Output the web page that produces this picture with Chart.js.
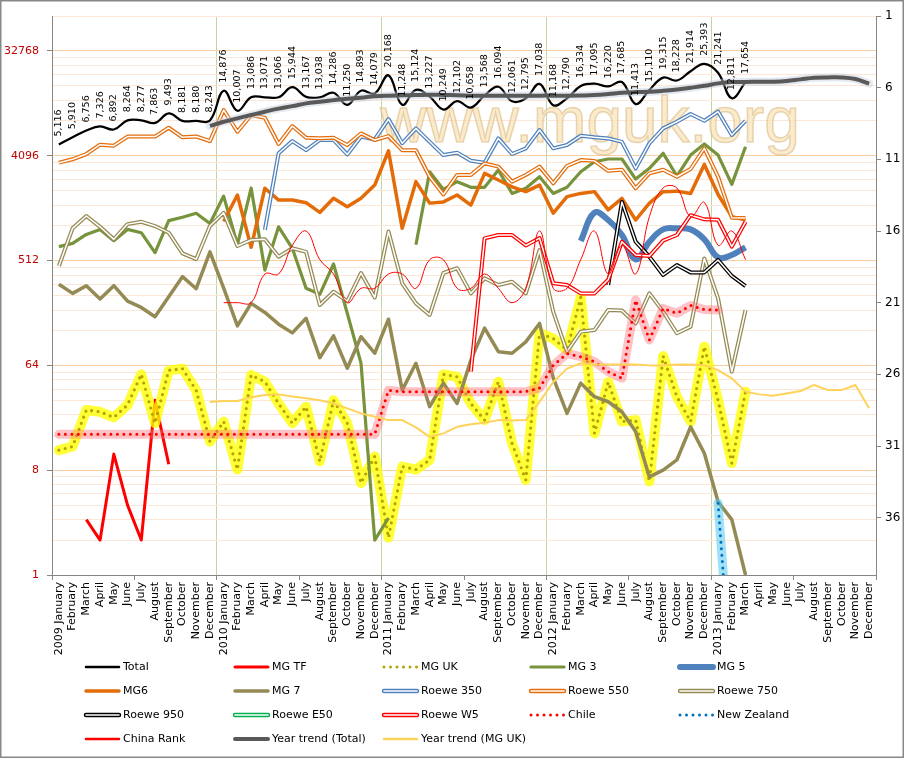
<!DOCTYPE html>
<html>
<head>
<meta charset="utf-8">
<title>MG / Roewe sales</title>
<script src="https://cdn.jsdelivr.net/npm/chart.js@4.4.1/dist/chart.umd.min.js"></script>
<style>
  html, body { margin: 0; padding: 0; background: #fff; }
  #wrap { width: 904px; height: 758px; }
</style>
</head>
<body>
<div id="wrap"><canvas id="salesChart" width="904" height="758"></canvas></div>
<script>
// categories
const months = ['January', 'February', 'March', 'April', 'May', 'June', 'July',
  'August', 'September', 'October', 'November', 'December'];
const years = [2009, 2010, 2011, 2012, 2013];
const categories = [];
years.forEach(y => months.forEach((m, i) => categories.push(i === 0 ? y + ' ' + m : m)));

// axis ticks
const leftTicks = [1, 8, 64, 512, 4096, 32768];
const rightTicks = [1, 6, 11, 16, 21, 26, 31, 36];

// series (one value per month, 2009 January onwards)
const total = [5116, 5910, 6756, 7326, 6892, 8264, 8277, 7863, 9493, 8181, 8180, 8243,
  14876, 10007, 13086, 13071, 13066, 15944, 13167, 13038, 14286, 11250, 14893, 14079,
  20168, 11248, 15124, 13227, 10249, 12102, 10658, 13568, 16094, 12061, 12795, 17038,
  11168, 12790, 16334, 17095, 16220, 17685, 11413, 15110, 19315, 18228, 21914, 25393,
  21241, 12811, 17654];

const mgTF = [null, null, 3, 2, 11, 4, 2, 32, 9];

const mgUK = [11.9, 12.8, 26.4, 25.5, 22.8, 29.2, 53.6, 20.3, 58, 60, 39, 14.1,
  21, 8.1, 52.8, 46.3, 30, 20.3, 28.2, 9.5, 32, 20.3, 6.2, 10.5,
  2.1, 8.6, 8.1, 9.8, 53.6, 51, 30, 21.6, 46.3, 13.6, 6.6, 121,
  109, 87, 247, 16.6, 46, 21, 21.6, 6.4, 77, 34.4, 21, 93,
  32, 9.2, 38];

const mg3 = [675, 720, 860, 950, 760, 950, 890, 600, 1130, 1210, 1310, 1070,
  1840, 700, 2160, 424, 1000, 653, 296, 262, 478, 180, 67, 2.0,
  3.1, null, 700, 2980, 2100, 2450, 2190, 2190, 3080, 1940, 2150, 2700,
  1940, 2190, 2980, 3640, 3840, 3840, 2580, 3190, 4300, 2740, 4150, 5170,
  4150, 2320, 4900];

const mg5 = [null, null, null, null, null, null, null, null, null, null, null, null,
  null, null, null, null, null, null, null, null, null, null, null, null,
  null, null, null, null, null, null, null, null, null, null, null, null,
  null, null, 755, 1323, 1144, 850, 525, 744, 950, 970, 950, 780,
  545, 572, 666];

const mg6 = [null, null, null, null, null, null, null, null, null, null, null, null,
  1110, 1880, 666, 2150, 1700, 1700, 1615, 1330, 1760, 1490, 1760, 2290,
  4520, 970, 2450, 1600, 1640, 1880, 1540, 2890, 2530, 2210, 2010, 2290,
  1310, 1820, 1940, 2010, 1400, 1760, 1145, 1600, 2010, 2030, 1940, 3450,
  1900, 1225, 1145];

const mg7 = [320, 267, 311, 239, 311, 229, 202, 168, 250, 372, 293, 609,
  296, 140, 219, 183, 145, 122, 163, 74.5, 115, 60.4, 113, 81.4,
  160, 39.2, 66.7, 28.2, 45, 30.1, 71, 134, 84, 81.4, 102, 147,
  50, 24.7, 45, 34.4, 31.1, 25.5, 17.2, 7.0, 8.0, 9.8, 18.9, 11.2,
  4.28, 3.0, 1.0];

const roewe350 = [null, null, null, null, null, null, null, null, null, null, null, null,
  null, null, null, 940, 4300, 5480, 4580, 5600, 5600, 4200, 6000, 5660,
  8480, 5250, 7050, 5400, 4150, 4350, 3710, 3570, 5780, 4240, 4740, 6820,
  4740, 5070, 6090, 5900, 5780, 5400, 3190, 5250, 7050, 8040, 9370, 8200,
  9820, 6180, 8200];

const roewe550 = [3570, 3820, 4240, 5100, 5000, 5990, 5990, 5990, 7140, 5900, 6000, 5480,
  10150, 6600, 9200, 8700, 5170, 7380, 5860, 5800, 5860, 5070, 6380, 5590,
  6050, 4570, 4570, 2700, 1900, 2800, 2800, 3520, 3300, 2450, 2800, 3300,
  2370, 3340, 3760, 3700, 3040, 3100, 2150, 2890, 3100, 2700, 3150, 4740,
  2700, 1200, 1190];

const roewe750 = [460, 970, 1240, 1000, 780, 1055, 1105, 1015, 890, 590, 527, 1015,
  1320, 684, 770, 780, 553, 653, 609, 212, 276, 229, 400, 246,
  910, 326, 219, 174, 400, 440, 267, 360, 315, 336, 267, 630,
  185, 84, 125, 129, 192, 190, 147, 267, 186, 121, 138, 534,
  242, 56.5, 192];

const roewe950 = [null, null, null, null, null, null, null, null, null, null, null, null,
  null, null, null, null, null, null, null, null, null, null, null, null,
  null, null, null, null, null, null, null, null, null, null, null, null,
  null, null, null, null, 315, 1640, 744, 553, 385, 468, 405, 405,
  518, 377, 309];

const roeweE50 = [];

const roeweW5 = [null, null, null, null, null, null, null, null, null, null, null, null,
  null, null, null, null, null, null, null, null, null, null, null, null,
  null, null, null, null, null, null, 56.5, 796, 850, 850, 690, 800,
  326, 315, 267, 267, 350, 744, 572, 560, 760, 850, 1260, 1160,
  1150, 675, 1105];

const chile = [16.3, 16.3, 16.3, 16.3, 16.3, 16.3, 16.3, 16.3, 16.3, 16.3, 16.3, 16.3,
  16.3, 16.3, 16.3, 16.3, 16.3, 16.3, 16.3, 16.3, 16.3, 16.3, 16.3, 16.3,
  39, 38, 38, 38, 38, 38, 38, 38, 38, 38, 38, 40.8,
  64, 81, 76, 69, 56.5, 49.5, 234, 106, 198, 180, 210, 194,
  192];

const newZealand = [null, null, null, null, null, null, null, null, null, null, null, null,
  null, null, null, null, null, null, null, null, null, null, null, null,
  null, null, null, null, null, null, null, null, null, null, null, null,
  null, null, null, null, null, null, null, null, null, null, null, null,
  4.15, 0.1];

// rank, right axis
const chinaRank = [null, null, null, null, null, null, null, null, null, null, null, null,
  21, 21, 21, 19, 19, 17, 16, 18, 19, 21, 20, 20,
  19, 19, 20, 18, 18, 20, 20, 19, 20, 21, 20, 16,
  20, 20, 18, 16, 19, 17, 19, 15, 13, 13, 15, 14,
  17, 16, 18];

const trendTotal = [null, null, null, null, null, null, null, null, null, null, null, 7400,
  8040, 8600, 9200, 9820, 10430, 10960, 11580, 11970, 12350, 12700, 12950, 13310,
  13480, 13570, 13660, 13750, 13700, 13600, 13500, 13450, 13450, 13450, 13450, 13500,
  13500, 13500, 13550, 13660, 13930, 14290, 14480, 14570, 14860, 15270, 15790, 16400,
  17220, 17680, 17680, 17800, 17800, 18030, 18640, 19230, 19380, 19380, 18760, 17110];

const trendUK = [null, null, null, null, null, null, null, null, null, null, null, 31,
  31.5, 31.6, 34, 35.5, 36, 34.5, 33.3, 32, 30.1, 27.3, 24.7, 23.1,
  21.6, 21.6, 18.7, 15.5, 16.6, 18.9, 19.9, 20.5, 21.6, 21.4, 21.6, 31,
  46, 60, 66.7, 65, 65, 65, 65, 64, 64, 65, 65, 64,
  58.3, 49.5, 38, 36, 35.1, 36.7, 38.5, 43.4, 39.2, 39.2, 43.4, 27.3];

// looks of each series, legend order
const series = [
  { label: 'Total', data: total, color: '#000000', width: 2.25, tension: 0.4 },
  { label: 'MG TF', data: mgTF, color: '#FF0000', width: 3 },
  { label: 'MG UK', data: mgUK, color: '#B5A300', width: 3.2, dots: true, glow: 'rgba(255,255,0,0.78)', glowWidth: 10 },
  { label: 'MG 3', data: mg3, color: '#77933C', width: 3.2 },
  { label: 'MG 5', data: mg5, color: '#4F81BD', width: 6, tension: 0.4 },
  { label: 'MG6', data: mg6, color: '#E36C09', width: 3.5 },
  { label: 'MG 7', data: mg7, color: '#948A54', width: 3.5 },
  { label: 'Roewe 350', data: roewe350, color: '#4F81BD', width: 4, double: true },
  { label: 'Roewe 550', data: roewe550, color: '#E46C0A', width: 4, double: true },
  { label: 'Roewe 750', data: roewe750, color: '#948A54', width: 4, double: true },
  { label: 'Roewe 950', data: roewe950, color: '#000000', width: 4, double: true },
  { label: 'Roewe E50', data: roeweE50, color: '#00B050', width: 4, double: true },
  { label: 'Roewe W5', data: roeweW5, color: '#FF0000', width: 4, double: true },
  { label: 'Chile', data: chile, color: '#FF0000', width: 3, dots: true, glow: 'rgba(255,110,120,0.42)', glowWidth: 9 },
  { label: 'New Zealand', data: newZealand, color: '#0070C0', width: 3, dots: true, glow: 'rgba(80,200,240,0.55)', glowWidth: 9 },
  { label: 'China Rank', data: chinaRank, color: '#FF0000', width: 1, tension: 0.4, axis: 'yRank' },
  { label: 'Year trend (Total)', data: trendTotal, color: '#595959', width: 4, tension: 0.4, glow: 'rgba(195,205,220,0.45)', glowWidth: 8 },
  { label: 'Year trend (MG UK)', data: trendUK, color: '#FFD25A', width: 2 }
];

const datasets = [];
series.forEach((s, k) => {
  const base = 1000 - k * 10; // later series on top
  const common = {
    data: s.data, yAxisID: s.axis || 'y', pointRadius: 0, pointHoverRadius: 0,
    tension: s.tension || 0, borderJoinStyle: 'round', spanGaps: false, fill: false
  };
  if (s.glow) {
    datasets.push({ ...common, label: s.label + ' glow', borderColor: s.glow,
      borderWidth: s.glowWidth, borderCapStyle: 'round', order: base + 1 });
  }
  datasets.push({ ...common, label: s.label, borderColor: s.color, borderWidth: s.width,
    borderDash: s.dots ? [0, 6.5] : [], borderCapStyle: s.dots ? 'round' : 'butt', order: base });
  if (s.double) {
    datasets.push({ ...common, label: s.label + ' inner', borderColor: '#FFFFFF',
      borderWidth: 1.5, order: base - 1 });
  }
});

// minor gridlines at 2..7 times each major tick
const gridValues = [];
leftTicks.forEach(t => { for (let m = 1; m < 8; m++) if (t * m <= 65536) gridValues.push(t * m); });
if (!gridValues.includes(65536)) gridValues.push(65536);

const watermark = {
  id: 'watermark',
  beforeDatasetsDraw(chart) {
    const ctx = chart.ctx;
    ctx.save();
    ctx.font = '64px "Liberation Sans", Arial, sans-serif';
    ctx.textAlign = 'center';
    ctx.textBaseline = 'alphabetic';
    ctx.fillStyle = 'rgba(250,226,184,0.7)';
    ctx.strokeStyle = 'rgba(214,178,120,0.5)';
    ctx.lineWidth = 1.5;
    ctx.fillText('www.mguk.org', 590, 142);
    ctx.strokeText('www.mguk.org', 590, 142);
    ctx.restore();
  }
};

const totalLabels = {
  id: 'totalLabels',
  afterDatasetsDraw(chart) {
    const idx = chart.data.datasets.findIndex(d => d.label === 'Total');
    const meta = chart.getDatasetMeta(idx);
    const ctx = chart.ctx;
    ctx.save();
    ctx.font = '9.5px "DejaVu Sans", sans-serif';
    ctx.fillStyle = '#000';
    ctx.textAlign = 'left';
    ctx.textBaseline = 'middle';
    meta.data.forEach((pt, i) => {
      const v = total[i];
      if (v == null) return;
      ctx.save();
      ctx.translate(pt.x, pt.y - 8);
      ctx.rotate(-Math.PI / 2);
      ctx.fillText(v.toLocaleString('en-US'), 0, 0);
      ctx.restore();
    });
    ctx.restore();
  }
};

const legendBox = {
  id: 'legendBox',
  afterDraw(chart) {
    const ctx = chart.ctx;
    const colX = [123, 272, 421, 568, 717];
    const rowY = [667, 691, 715, 739];
    ctx.save();
    series.forEach((s, k) => {
      const tx = colX[k % 5];
      const y = rowY[Math.floor(k / 5)];
      const x0 = tx - 37, x1 = tx - 4;
      ctx.save();
      ctx.lineCap = 'round';
      ctx.beginPath();
      ctx.moveTo(x0, y);
      ctx.lineTo(x1, y);
      if (s.dots) {
        ctx.setLineDash([0, 6.5]);
        ctx.strokeStyle = s.color;
        ctx.lineWidth = 3;
        ctx.stroke();
      } else if (s.double) {
        ctx.strokeStyle = s.color;
        ctx.lineWidth = 4.5;
        ctx.stroke();
        ctx.strokeStyle = '#fff';
        ctx.lineWidth = 1.6;
        ctx.stroke();
      } else {
        ctx.strokeStyle = s.color;
        ctx.lineWidth = Math.max(s.width, 2.5);
        ctx.stroke();
      }
      ctx.restore();
      ctx.font = '11px "DejaVu Sans", sans-serif';
      ctx.fillStyle = '#000';
      ctx.textAlign = 'left';
      ctx.textBaseline = 'middle';
      ctx.fillText(s.label, tx, y);
    });
    // chart frame
    ctx.strokeStyle = '#888';
    ctx.lineWidth = 1.5;
    ctx.strokeRect(0.75, 0.75, 902.5, 756.5);
    ctx.restore();
  }
};

Chart.defaults.font.family = '"DejaVu Sans", sans-serif';

new Chart(document.getElementById('salesChart'), {
  type: 'line',
  data: { labels: categories, datasets: datasets },
  options: {
    responsive: false,
    animation: false,
    devicePixelRatio: 1,
    layout: { padding: { top: 16, left: 0, right: 0, bottom: 0 } },
    plugins: { legend: { display: false }, tooltip: { enabled: false } },
    events: [],
    scales: {
      x: {
        type: 'category',
        offset: true,
        afterFit: scale => { scale.height = 183; },
        grid: {
          offset: true,
          color: ctx => (ctx.index && ctx.index % 12 === 0) ? '#C3D69B' : 'rgba(0,0,0,0)',
          tickColor: ctx => (ctx.index === undefined || ctx.index % 6 === 0) ? '#868686' : 'rgba(0,0,0,0)',
          tickLength: 5
        },
        border: { color: '#868686' },
        ticks: { autoSkip: false, minRotation: 90, maxRotation: 90, color: '#000', font: { size: 11 }, padding: 2 }
      },
      y: {
        type: 'logarithmic',
        position: 'left',
        min: 1,
        max: 65536,
        afterBuildTicks: scale => { scale.ticks = gridValues.map(v => ({ value: v })); },
        afterFit: scale => { scale.width = 52; },
        ticks: {
          autoSkip: false,
          callback: v => leftTicks.includes(v) ? String(v) : '',
          color: '#C00000',
          font: { size: 11 },
          padding: 8
        },
        grid: {
          color: ctx => leftTicks.includes(ctx.tick.value) ? '#F9CDA2' : '#FCE7D7',
          tickColor: ctx => leftTicks.includes(ctx.tick.value) ? '#868686' : 'rgba(0,0,0,0)',
          tickLength: 5
        },
        border: { color: '#868686' }
      },
      yRank: {
        type: 'linear',
        position: 'right',
        reverse: true,
        min: 1,
        max: 40,
        afterBuildTicks: scale => { scale.ticks = rightTicks.map(v => ({ value: v })); },
        afterFit: scale => { scale.width = 28; },
        grid: { drawOnChartArea: false, tickLength: 5, tickColor: '#868686' },
        border: { color: '#868686' },
        ticks: { autoSkip: false, color: '#000', font: { size: 12 }, padding: 4 }
      }
    }
  },
  plugins: [watermark, totalLabels, legendBox]
});
</script>
</body>
</html>
